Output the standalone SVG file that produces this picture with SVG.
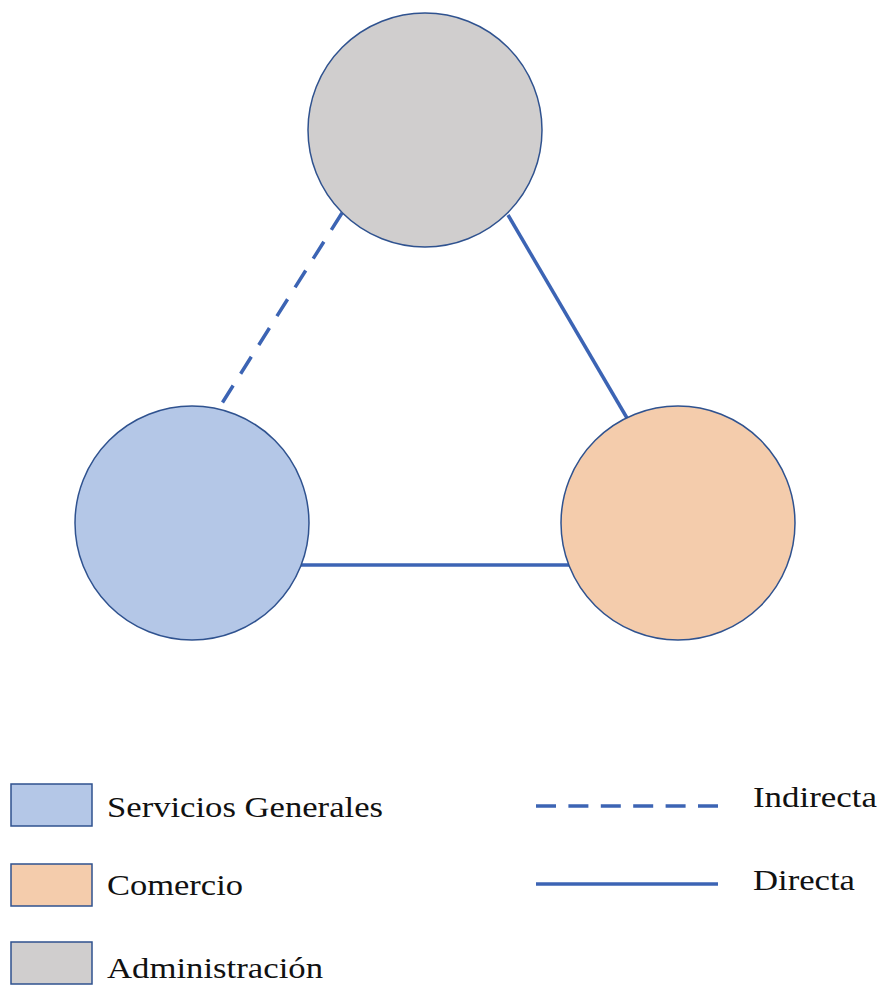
<svg xmlns="http://www.w3.org/2000/svg" width="881" height="987" viewBox="0 0 881 987">
<style>
.node{stroke:#2F528F;stroke-width:1.5}
.lk{stroke:#3C64B4;stroke-width:3.5;fill:none}
.dash{stroke-dasharray:20 14}
.t{font-family:"Liberation Serif",serif;font-size:30px;fill:#111}
</style>
<rect width="881" height="987" fill="#fff"/>
<g id="connectors">
<line class="lk dash" x1="342" y1="213" x2="219" y2="408" stroke-width="4"/>
<line class="lk" x1="508" y1="215" x2="627" y2="418"/>
<line class="lk" x1="300" y1="565" x2="571" y2="565"/>
</g>
<g id="administracion"><circle class="node" cx="425" cy="130" r="117" fill="#D0CECE"/></g>
<g id="servicios"><circle class="node" cx="192" cy="523" r="117" fill="#B4C7E7"/></g>
<g id="comercio"><circle class="node" cx="678" cy="523" r="117" fill="#F4CCAC"/></g>
<g id="legend">
<rect class="node" x="11" y="784" width="81" height="42" fill="#B4C7E7" stroke-width="2"/>
<rect class="node" x="11" y="864" width="81" height="42" fill="#F4CCAC" stroke-width="2"/>
<rect class="node" x="11" y="942" width="81" height="42" fill="#D0CECE" stroke-width="2"/>
<text class="t" x="107" y="817" textLength="276" lengthAdjust="spacingAndGlyphs">Servicios Generales</text>
<text class="t" x="107" y="895" textLength="136" lengthAdjust="spacingAndGlyphs">Comercio</text>
<text class="t" x="107" y="978" textLength="216" lengthAdjust="spacingAndGlyphs">Administración</text>
<line class="lk" x1="536" y1="806" x2="718" y2="806" stroke-dasharray="20 12.4"/>
<line class="lk" x1="536" y1="884" x2="718" y2="884"/>
<text class="t" x="753" y="807" textLength="124" lengthAdjust="spacingAndGlyphs">Indirecta</text>
<text class="t" x="753" y="890" textLength="102" lengthAdjust="spacingAndGlyphs">Directa</text>
</g>
</svg>
